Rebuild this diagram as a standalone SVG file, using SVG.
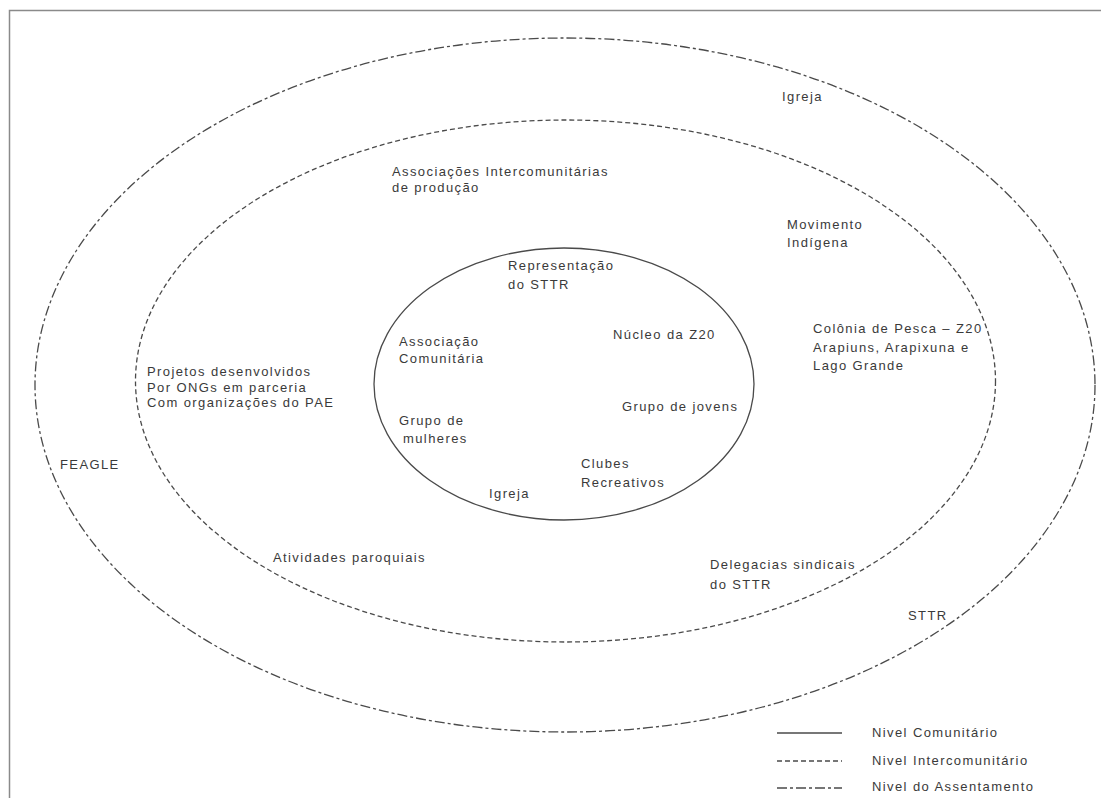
<svg xmlns="http://www.w3.org/2000/svg" width="1101" height="798" viewBox="0 0 1101 798">
<style>
text{font-family:"Liberation Sans",Arial,sans-serif;font-size:13px;fill:#3a3a3a;letter-spacing:1.4px}
.ell{fill:none;stroke:#4a4a4a;stroke-width:1.3}
.solid{stroke-dasharray:none}
.dash{stroke-dasharray:5 3}
.dashdot{stroke-dasharray:10 3 3 3}
</style>
<rect x="9.5" y="10.5" width="1100" height="800" fill="#fff" stroke="#8a8a8a" stroke-width="1.5"/>
<g id="connectors">
<ellipse id="nivel-assentamento" class="ell dashdot" cx="565" cy="385" rx="530" ry="347"/>
<ellipse id="nivel-intercomunitario" class="ell dash" cx="565.5" cy="381" rx="430" ry="261"/>
<ellipse id="nivel-comunitario" class="ell solid" cx="564" cy="384" rx="190" ry="136"/>
</g>
<g id="igreja-top"><text x="782" y="101">Igreja</text></g>
<g id="associacoes-intercom"><text x="392" y="176">Associações Intercomunitárias</text><text x="392" y="192">de produção</text></g>
<g id="movimento-indigena"><text x="787" y="229">Movimento</text><text x="787" y="247">Indígena</text></g>
<g id="representacao-sttr"><text x="508" y="270">Representação</text><text x="508" y="289">do STTR</text></g>
<g id="associacao-comunitaria"><text x="399" y="346">Associação</text><text x="399" y="363">Comunitária</text></g>
<g id="nucleo-z20"><text x="613" y="339">Núcleo da Z20</text></g>
<g id="colonia-pesca"><text x="813" y="333">Colônia de Pesca – Z20</text><text x="813" y="352">Arapiuns, Arapixuna e</text><text x="813" y="370">Lago Grande</text></g>
<g id="projetos-ongs"><text x="147" y="376">Projetos desenvolvidos</text><text x="147" y="392">Por ONGs em parceria</text><text x="147" y="407">Com organizações do PAE</text></g>
<g id="grupo-mulheres"><text x="399" y="425">Grupo de</text><text x="403" y="443">mulheres</text></g>
<g id="grupo-jovens"><text x="622" y="411">Grupo de jovens</text></g>
<g id="feagle"><text x="60" y="469">FEAGLE</text></g>
<g id="clubes-recreativos"><text x="581" y="468">Clubes</text><text x="581" y="487">Recreativos</text></g>
<g id="igreja-inner"><text x="489" y="498">Igreja</text></g>
<g id="atividades-paroquiais"><text x="273" y="562">Atividades paroquiais</text></g>
<g id="delegacias-sindicais"><text x="710" y="569">Delegacias sindicais</text><text x="710" y="589">do STTR</text></g>
<g id="sttr"><text x="908" y="620">STTR</text></g>
<g id="legend">
<line x1="777" y1="733" x2="842" y2="733" class="ell solid"/>
<line x1="777" y1="761" x2="842" y2="761" class="ell dash"/>
<line x1="777" y1="788" x2="842" y2="788" class="ell dashdot"/>
<text x="872" y="737">Nivel Comunitário</text>
<text x="872" y="765">Nivel Intercomunitário</text>
<text x="872" y="791">Nivel do Assentamento</text>
</g>
</svg>
